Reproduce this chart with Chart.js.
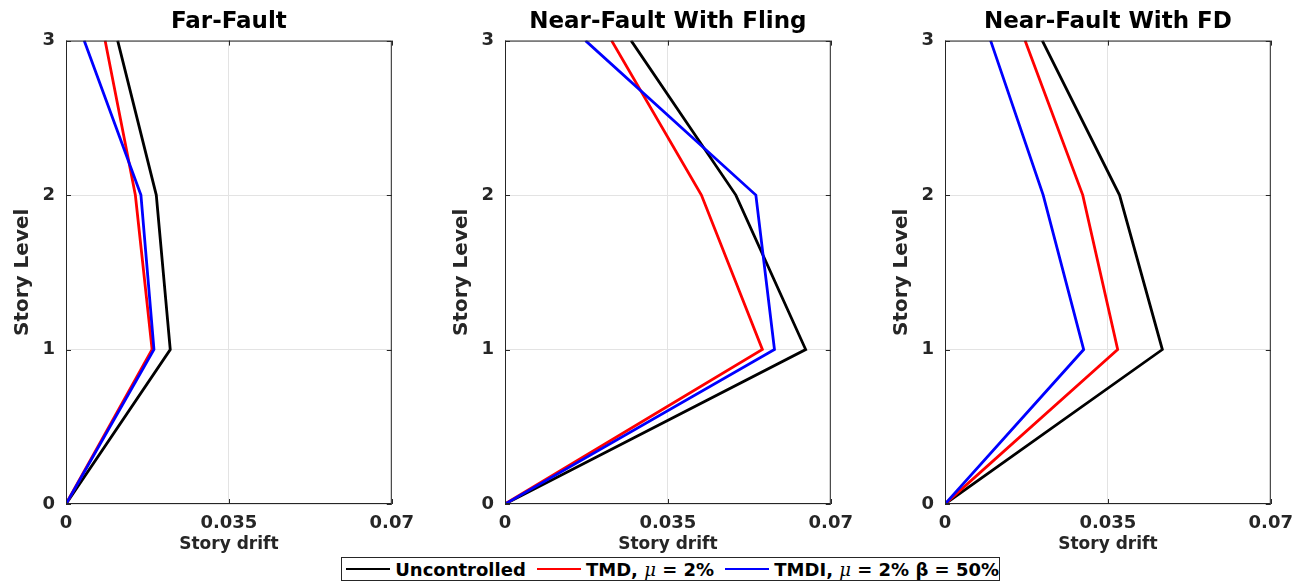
<!DOCTYPE html>
<html>
<head>
<meta charset="utf-8">
<script src="https://cdn.jsdelivr.net/npm/chart.js@4.4.1/dist/chart.umd.min.js"></script>
<style>
  body { margin: 0; background: #fff; width: 1303px; height: 581px; position: relative; overflow: hidden; }
  canvas { position: absolute; top: 0; }
  #legend {
    position: absolute; left: 341px; top: 557px; width: 657px; height: 22px;
    border: 1px solid #262626; background: #fff;
    display: flex; align-items: center;
    font: bold 18px 'DejaVu Sans'; color: #000; white-space: nowrap;
  }
  #legend .sw { width: 46px; height: 0; border-top: 2.8px solid; margin-left: 4px; margin-right: 5px; }
  #legend .sw.next { margin-left: 11px; }
  #legend i { font-family: 'DejaVu Serif'; font-weight: normal; }
</style>
</head>
<body>
<canvas id="farChart" width="423" height="560" style="left:0px"></canvas>
<canvas id="flingChart" width="423" height="560" style="left:439px"></canvas>
<canvas id="fdChart" width="423" height="560" style="left:879px"></canvas>
<div id="legend"></div>
<script>
const levels = [0, 1, 2, 3];
const xTicks = [0, 0.035, 0.07];
const xTickLabels = ['0', '0.035', '0.07'];
const yTicks = [0, 1, 2, 3];

const seriesNames = ['Uncontrolled', 'TMD, <i>μ</i> = 2%', 'TMDI, <i>μ</i> = 2% β = 50%'];
const seriesLabels = ['Uncontrolled', 'TMD, μ = 2%', 'TMDI, μ = 2% β = 50%'];
const seriesColors = ['#000000', '#ff0000', '#0000ff'];

// story drift per level (0..3)
const farUncontrolled = [0, 0.0224, 0.0194, 0.0111];
const farTMD = [0, 0.0185, 0.0149, 0.0084];
const farTMDI = [0, 0.0189, 0.0161, 0.0039];

const flingUncontrolled = [0, 0.0646, 0.0496, 0.0271];
const flingTMD = [0, 0.0553, 0.0422, 0.0229];
const flingTMDI = [0, 0.0579, 0.0539, 0.0173];

const fdUncontrolled = [0, 0.0467, 0.0375, 0.0209];
const fdTMD = [0, 0.0371, 0.0296, 0.0172];
const fdTMDI = [0, 0.0298, 0.0211, 0.0098];

Chart.defaults.font.family = 'DejaVu Sans';
Chart.defaults.color = '#262626';

// MATLAB-style box with inward tick marks
const framePlugin = {
    id: 'frame',
    afterDatasetsDraw(chart) {
        const { ctx, chartArea: a, scales: { x, y } } = chart;
        ctx.save();
        ctx.strokeStyle = '#262626';
        ctx.lineWidth = 1;
        ctx.strokeRect(a.left + 0.5, a.top + 0.5, a.width - 1, a.height - 1);
        ctx.beginPath();
        yTicks.forEach(v => {
            const py = Math.round(y.getPixelForValue(v)) + 0.5;
            ctx.moveTo(a.left, py); ctx.lineTo(a.left + 5, py);
            ctx.moveTo(a.right - 5, py); ctx.lineTo(a.right, py);
        });
        xTicks.forEach(v => {
            const px = Math.round(x.getPixelForValue(v)) + 0.5;
            ctx.moveTo(px, a.bottom); ctx.lineTo(px, a.bottom - 5);
            ctx.moveTo(px, a.top); ctx.lineTo(px, a.top + 5);
        });
        ctx.stroke();
        ctx.restore();
    }
};

function makePanel(canvasId, title, seriesList) {
    const ctx = document.getElementById(canvasId).getContext('2d');
    return new Chart(ctx, {
        type: 'line',
        data: {
            datasets: seriesList.map((values, i) => ({
                label: seriesLabels[i],
                data: values.map((v, k) => ({ x: v, y: levels[k] })),
                borderColor: seriesColors[i],
                backgroundColor: seriesColors[i],
                borderWidth: 2.8,
                pointRadius: 0,
                tension: 0,
                fill: false,
                order: seriesList.length - i
            }))
        },
        options: {
            responsive: false,
            animation: false,
            layout: { padding: { left: 0, right: 30, top: 0, bottom: 0 } },
            scales: {
                x: {
                    type: 'linear',
                    min: 0,
                    max: 0.07,
                    afterBuildTicks: s => { s.ticks = xTicks.map(v => ({ value: v })); },
                    afterFit: s => { s.height = 56; },
                    ticks: {
                        padding: 9,
                        font: { size: 18, weight: 'bold' },
                        color: '#262626',
                        maxRotation: 0,
                        callback: (value, index) => xTickLabels[index]
                    },
                    grid: { color: '#e3e3e3', drawTicks: false },
                    border: { display: false },
                    title: {
                        display: true,
                        text: 'Story drift',
                        color: '#262626',
                        font: { size: 17, weight: 'bold' },
                        padding: { top: 0, bottom: 5 }
                    }
                },
                y: {
                    type: 'linear',
                    min: 0,
                    max: 3,
                    afterBuildTicks: s => { s.ticks = yTicks.map(v => ({ value: v })); },
                    afterFit: s => { s.width = 66; },
                    ticks: {
                        padding: 11,
                        font: { size: 18, weight: 'bold' },
                        color: '#262626'
                    },
                    grid: { color: '#e3e3e3', drawTicks: false },
                    border: { display: false },
                    title: {
                        display: true,
                        text: 'Story Level',
                        color: '#262626',
                        font: { size: 20, weight: 'bold' },
                        padding: { top: 11, bottom: 0 }
                    }
                }
            },
            plugins: {
                legend: { display: false },
                tooltip: { enabled: false },
                title: {
                    display: true,
                    text: title,
                    fullSize: false,
                    color: '#000',
                    font: { size: 23, weight: 'bold' },
                    padding: { top: 8, bottom: 5 }
                }
            }
        },
        plugins: [framePlugin]
    });
}

makePanel('farChart', 'Far-Fault', [farUncontrolled, farTMD, farTMDI]);
makePanel('flingChart', 'Near-Fault With Fling', [flingUncontrolled, flingTMD, flingTMDI]);
makePanel('fdChart', 'Near-Fault With FD', [fdUncontrolled, fdTMD, fdTMDI]);

document.getElementById('legend').innerHTML = seriesNames.map((name, i) =>
    `<span class="sw${i ? ' next' : ''}" style="border-color:${seriesColors[i]}"></span><span>${name}</span>`
).join('');
</script>
</body>
</html>
